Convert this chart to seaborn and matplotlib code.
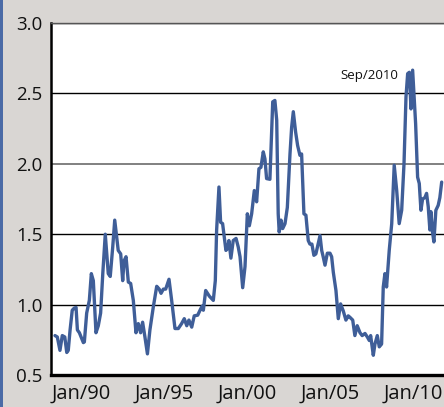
import matplotlib
matplotlib.use("Agg")
import matplotlib.pyplot as plt
from matplotlib.patches import Rectangle
import numpy as np
import pandas as pd
import seaborn as sns

# decimal year of each reading
years = [1988.42, 1988.56, 1988.72, 1988.86, 1989.01, 1989.13, 1989.22, 1989.33, 1989.46, 1989.58,
         1989.69, 1989.77, 1989.89, 1990.13, 1990.19, 1990.33, 1990.49, 1990.61, 1990.73, 1990.89,
         1991.03, 1991.17, 1991.30, 1991.45, 1991.63, 1991.75, 1991.90, 1992.02, 1992.14, 1992.23,
         1992.38, 1992.50, 1992.58, 1992.70, 1992.84, 1992.98, 1993.14, 1993.30, 1993.44, 1993.58,
         1993.70, 1993.84, 1993.99, 1994.14, 1994.34, 1994.55, 1994.70, 1994.81, 1994.95, 1995.09,
         1995.29, 1995.45, 1995.65, 1995.85, 1996.05, 1996.21, 1996.36, 1996.49, 1996.66, 1996.81,
         1997.02, 1997.20, 1997.30, 1997.36, 1997.50, 1997.72, 1997.96, 1998.08, 1998.16, 1998.30,
         1998.40, 1998.52, 1998.62, 1998.72, 1998.83, 1998.90, 1999.02, 1999.16, 1999.33, 1999.46,
         1999.57, 1999.73, 1999.87, 2000.01, 2000.13, 2000.27, 2000.43, 2000.57, 2000.71, 2000.83,
         2000.97, 2001.07, 2001.17, 2001.37, 2001.54, 2001.67, 2001.78, 2001.87, 2001.93, 2002.04,
         2002.14, 2002.28, 2002.42, 2002.58, 2002.68, 2002.78, 2002.92, 2003.04, 2003.18, 2003.28,
         2003.42, 2003.54, 2003.68, 2003.78, 2003.90, 2004.02, 2004.14, 2004.39, 2004.49, 2004.58,
         2004.69, 2004.83, 2004.99, 2005.09, 2005.19, 2005.35, 2005.49, 2005.63, 2005.79, 2005.95,
         2006.09, 2006.19, 2006.36, 2006.49, 2006.63, 2006.80, 2006.93, 2007.10, 2007.24, 2007.36,
         2007.44, 2007.60, 2007.70, 2007.84, 2007.96, 2008.10, 2008.20, 2008.30, 2008.40, 2008.56,
         2008.71, 2008.86, 2009.01, 2009.16, 2009.31, 2009.45, 2009.57, 2009.67, 2009.77, 2009.87,
         2009.97, 2010.05, 2010.15, 2010.27, 2010.37, 2010.47, 2010.57, 2010.71, 2010.81, 2010.91,
         2011.01, 2011.07, 2011.17, 2011.25, 2011.37, 2011.51, 2011.61, 2011.72]

values = [0.78, 0.77, 0.675, 0.78, 0.77, 0.66, 0.675, 0.82, 0.96, 0.975,
          0.98, 0.82, 0.80, 0.73, 0.735, 0.94, 1.03, 1.22, 1.17, 0.80,
          0.85, 0.94, 1.22, 1.50, 1.22, 1.20, 1.41, 1.60, 1.48, 1.385,
          1.36, 1.17, 1.31, 1.34, 1.16, 1.15, 1.03, 0.80, 0.865, 0.80,
          0.875, 0.77, 0.65, 0.82, 0.98, 1.13, 1.11, 1.08, 1.11, 1.11,
          1.18, 1.03, 0.83, 0.83, 0.865, 0.90, 0.85, 0.89, 0.84, 0.92,
          0.925, 0.97, 0.99, 0.96, 1.10, 1.06, 1.03, 1.17, 1.53, 1.835,
          1.585, 1.575, 1.48, 1.385, 1.40, 1.455, 1.33, 1.455, 1.47, 1.41,
          1.34, 1.12, 1.27, 1.645, 1.56, 1.645, 1.81, 1.73, 1.965, 1.975,
          2.085, 2.035, 1.895, 1.89, 2.44, 2.45, 2.31, 1.645, 1.515, 1.60,
          1.54, 1.575, 1.69, 2.07, 2.26, 2.37, 2.225, 2.13, 2.06, 2.07,
          1.645, 1.635, 1.455, 1.43, 1.43, 1.35, 1.36, 1.49, 1.385, 1.34,
          1.28, 1.365, 1.365, 1.34, 1.23, 1.10, 0.90, 1.005, 0.955, 0.89,
          0.92, 0.91, 0.89, 0.78, 0.85, 0.80, 0.78, 0.795, 0.77, 0.745,
          0.78, 0.64, 0.72, 0.78, 0.70, 0.72, 1.125, 1.22, 1.125, 1.385,
          1.575, 1.99, 1.81, 1.575, 1.67, 2.00, 2.475, 2.64, 2.65, 2.39,
          2.665, 2.50, 2.285, 1.905, 1.86, 1.67, 1.75, 1.76, 1.79, 1.695,
          1.53, 1.66, 1.515, 1.445, 1.67, 1.705, 1.76, 1.87]

ytick_values = [0.5, 1.0, 1.5, 2.0, 2.5, 3.0]
ytick_labels = ["0.5", "1.0", "1.5", "2.0", "2.5", "3.0"]
xtick_values = [1990, 1995, 2000, 2005, 2010]
xtick_labels = ["Jan/90", "Jan/95", "Jan/00", "Jan/05", "Jan/10"]
note_text = "Sep/2010"

df = pd.DataFrame({"year": years, "value": values})

sns.set_theme(style="white")
plt.rcParams['font.family'] = ['Open Sans', 'DejaVu Sans']

BG = "#d9d6d3"
LINE = "#3f5e98"

fig = plt.figure(figsize=(4.44, 4.07), dpi=100, facecolor=BG)
ax = fig.add_axes([51 / 444, 1 - 375 / 407, 1 - 51 / 444, (375 - 23) / 407])
ax.set_facecolor("white")
fig.patches.append(Rectangle((0, 0), 3 / 444, 1, transform=fig.transFigure,
                             facecolor="#4b6ba6", edgecolor="none", zorder=0))

sns.lineplot(data=df, x="year", y="value", ax=ax, color=LINE, linewidth=2.4,
             estimator=None, zorder=3)

ax.set_xlim(1988.18, 2011.86)
ax.set_ylim(0.5, 3.0)
ax.set_yticks(ytick_values)
ax.set_yticklabels(ytick_labels)
ax.set_xticks(xtick_values)
ax.set_xticklabels(xtick_labels)
ax.set_xlabel("")
ax.set_ylabel("")
ax.tick_params(axis="both", length=0, colors="#111111")
ax.tick_params(axis="y", pad=6, labelsize=13.5)
ax.tick_params(axis="x", pad=6, labelsize=14.5)

ax.yaxis.grid(True, color="black", linewidth=1.0)
ax.xaxis.grid(False)
for tv, gl in zip(ytick_values, ax.get_ygridlines()):
    if tv == 2.0:
        gl.set_color("#808080")
        gl.set_linewidth(1.4)
ax.set_axisbelow(True)

ax.spines["left"].set_color("black")
ax.spines["left"].set_linewidth(1.8)
ax.spines["bottom"].set_color("black")
ax.spines["bottom"].set_linewidth(2.4)
ax.spines["top"].set_color("#555555")
ax.spines["top"].set_linewidth(1.0)
ax.spines["right"].set_visible(False)

ax.text(2009.13, 2.63, note_text, ha="right", va="center", fontsize=9.5, color="#111111")

fig.savefig("out.png", dpi=100, facecolor=BG)
